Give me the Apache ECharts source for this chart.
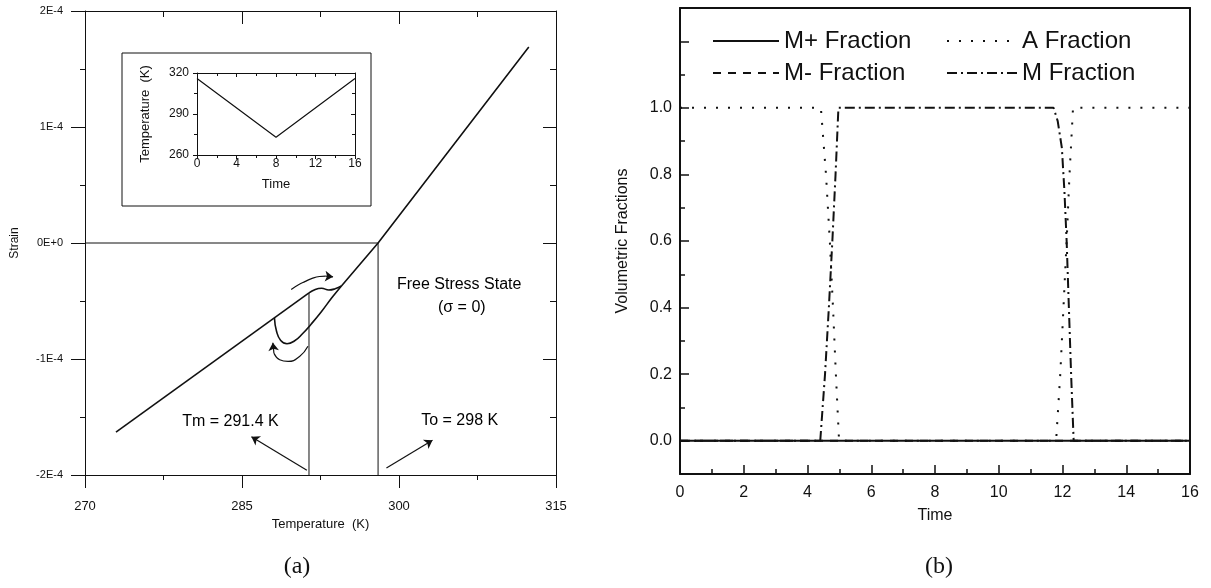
<!DOCTYPE html>
<html>
<head>
<meta charset="utf-8">
<script src="https://cdn.jsdelivr.net/npm/echarts@6/dist/echarts.min.js"></script>
<style>
  html, body { margin: 0; padding: 0; background: #fff; }
  #chart { width: 1211px; height: 588px; }
</style>
</head>
<body>
<div id="chart"></div>
<script>
// ---------- Panel (a): strain vs temperature, strain in units of 1E-4 ----------
const strainTickLabels = ['-2E-4', '-1E-4', '0E+0', '1E-4', '2E-4'];

const lowerBranch = [[272.96, -1.63], [291.4, -0.43]];
const transformWiggle = [[291.4, -0.43], [292.0, -0.40], [292.6, -0.39], [293.3, -0.405], [293.9, -0.395], [294.5, -0.37]];
const upperBranch = [[294.5, -0.37], [298.0, 0.0], [312.4, 1.69]];
const reverseLoop = [[288.1, -0.646], [288.3, -0.76], [288.7, -0.84], [289.3, -0.868], [290.0, -0.845],
                     [290.8, -0.78], [291.6, -0.70], [292.6, -0.59], [293.6, -0.47], [294.5, -0.37]];

const zeroStrainLine = [[270, 0], [298, 0]];
const toLine = [[298, 0], [298, -2]];
const tmLine = [[291.4, -0.43], [291.4, -2]];

// curved direction arrows around the loop
const coolingArrowPath = [[289.7, -0.40], [290.4, -0.36], [291.0, -0.333], [291.7, -0.305], [292.4, -0.289], [293.0, -0.286]];
const coolingArrowHead = [[293.0, -0.286], [293.7, -0.292]];
const heatingArrowPath = [[291.3, -0.89], [290.5, -0.978], [289.4, -1.021], [288.6, -1.006], [288.05, -0.95]];
const heatingArrowHead = [[288.05, -0.95], [287.95, -0.86]];

// pointer arrows from the temperature labels
const tmPointer = [[291.2, -1.96], [285.9, -1.67]];
const toPointer = [[298.8, -1.94], [303.2, -1.70]];

const notes = [
  { name: 'Free Stress State', value: [305.75, -0.36] },
  { name: '(\u03C3 = 0)', value: [306.0, -0.56] },
  { name: 'Tm = 291.4 K', value: [283.9, -1.54] },
  { name: 'To = 298 K', value: [305.8, -1.53] }
];

// inset: temperature history
const insetTime = [0, 8, 16];
const insetTemp = [316, 273, 316];

// ---------- Panel (b): volumetric fractions vs time ----------
const fractionLabelValues = [0, 0.2, 0.4, 0.6, 0.8, 1.0];
const fractionMajorTicks = [0, 0.2, 0.4, 0.6, 0.8, 1.0, 1.2];
const fractionMinorTicks = [0.1, 0.3, 0.5, 0.7, 0.9, 1.1];

const mPlusFraction = [[0, 0], [16, 0]];
const mMinusFraction = [[0, 0], [16, 0]];
const aFraction = [[0, 1], [4.42, 1], [4.58, 0.8], [4.70, 0.6], [4.80, 0.4], [4.89, 0.2], [4.99, 0],
                   [11.8, 0], [11.93, 0.2], [12.03, 0.4], [12.13, 0.6], [12.22, 0.8], [12.33, 1], [16, 1]];
const mFraction = [[0, 0], [4.40, 0], [4.55, 0.2], [4.67, 0.4], [4.78, 0.6], [4.88, 0.8], [4.97, 1],
                   [11.72, 1], [11.85, 0.96], [11.98, 0.88], [12.06, 0.75], [12.13, 0.6], [12.2, 0.4],
                   [12.27, 0.2], [12.35, 0], [16, 0]];

const ink = '#111';
const sans = '"Liberation Sans", Arial, Helvetica, sans-serif';
const serif = '"Liberation Serif", "Times New Roman", serif';

function frameLine(width) {
  return { show: true, onZero: false, lineStyle: { color: ink, width: width } };
}
function ticks(inside, len, width) {
  return { show: true, inside: inside, length: len, lineStyle: { color: ink, width: width || 1 } };
}
function minor(len, split, width) {
  return { show: true, splitNumber: split, length: len, lineStyle: { color: ink, width: width || 1 } };
}
const noLabel = { show: false };
const noSplit = { show: false };

const chart = echarts.init(document.getElementById('chart'));

const xAxis = [
  // 0: panel (a) bottom
  { gridIndex: 0, type: 'value', position: 'bottom', min: 270, max: 315, interval: 15,
    axisLine: frameLine(1), axisTick: ticks(false, 13), minorTick: minor(5, 2), splitLine: noSplit,
    axisLabel: { color: ink, fontFamily: sans, fontSize: 13, margin: 25 },
    name: 'Temperature  (K)', nameLocation: 'middle', nameGap: 41,
    nameTextStyle: { color: ink, fontFamily: sans, fontSize: 13 } },
  // 1: panel (a) top
  { gridIndex: 0, type: 'value', position: 'top', min: 270, max: 315, interval: 15,
    axisLine: frameLine(1), axisTick: ticks(true, 13), minorTick: minor(6, 2), splitLine: noSplit, axisLabel: noLabel },
  // 2: inset bottom
  { gridIndex: 1, type: 'value', position: 'bottom', min: 0, max: 16, interval: 4, z: 5,
    axisLine: frameLine(1), axisTick: ticks(false, 4), minorTick: minor(3, 2), splitLine: noSplit,
    axisLabel: { color: ink, fontFamily: sans, fontSize: 12, margin: 3 },
    name: 'Time', nameLocation: 'middle', nameGap: 23,
    nameTextStyle: { color: ink, fontFamily: sans, fontSize: 13 } },
  // 3: inset top
  { gridIndex: 1, type: 'value', position: 'top', min: 0, max: 16, interval: 4, z: 5,
    axisLine: frameLine(1), axisTick: ticks(true, 4), minorTick: minor(3, 2), splitLine: noSplit, axisLabel: noLabel },
  // 4: panel (b) bottom
  { gridIndex: 2, type: 'value', position: 'bottom', min: 0, max: 16, interval: 2,
    axisLine: frameLine(2), axisTick: ticks(true, 9, 1.5), minorTick: minor(5, 2, 1.5), splitLine: noSplit,
    axisLabel: { color: ink, fontFamily: sans, fontSize: 16, margin: 11 },
    name: 'Time', nameLocation: 'middle', nameGap: 34,
    nameTextStyle: { color: ink, fontFamily: sans, fontSize: 16 } },
  // 5: panel (b) top
  { gridIndex: 2, type: 'value', position: 'top', min: 0, max: 16, interval: 2,
    axisLine: frameLine(2), axisTick: { show: false }, splitLine: noSplit, axisLabel: noLabel }
];

const yAxis = [
  // 0: panel (a) left
  { gridIndex: 0, type: 'value', position: 'left', min: -2, max: 2, interval: 1,
    axisLine: frameLine(1), axisTick: ticks(false, 14), minorTick: minor(5, 2), splitLine: noSplit,
    axisLabel: { color: ink, fontFamily: sans, fontSize: 11, margin: 22,
                 formatter: v => strainTickLabels[Math.round(v) + 2] },
    name: 'Strain', nameLocation: 'middle', nameGap: 64,
    nameTextStyle: { color: ink, fontFamily: sans, fontSize: 12 } },
  // 1: panel (a) right
  { gridIndex: 0, type: 'value', position: 'right', min: -2, max: 2, interval: 1,
    axisLine: frameLine(1), axisTick: ticks(true, 13), minorTick: minor(6, 2), splitLine: noSplit, axisLabel: noLabel },
  // 2: inset left
  { gridIndex: 1, type: 'value', position: 'left', min: 260, max: 320, interval: 30, z: 5,
    axisLine: frameLine(1), axisTick: ticks(false, 4), minorTick: minor(3, 2), splitLine: noSplit,
    axisLabel: { color: ink, fontFamily: sans, fontSize: 12, margin: 8 },
    name: 'Temperature  (K)', nameLocation: 'middle', nameGap: 45,
    nameTextStyle: { color: ink, fontFamily: sans, fontSize: 13 } },
  // 3: inset right
  { gridIndex: 1, type: 'value', position: 'right', min: 260, max: 320, interval: 30, z: 5,
    axisLine: frameLine(1), axisTick: ticks(true, 4), minorTick: minor(3, 2), splitLine: noSplit, axisLabel: noLabel },
  // 4: panel (b) left, major ticks and labels
  { gridIndex: 2, type: 'value', position: 'left', min: -0.1, max: 1.3,
    axisLine: frameLine(2),
    axisTick: Object.assign(ticks(true, 9, 1.5), { customValues: fractionMajorTicks }),
    splitLine: noSplit,
    axisLabel: { color: ink, fontFamily: sans, fontSize: 16, margin: 8,
                 customValues: fractionLabelValues, formatter: v => v.toFixed(1) },
    name: 'Volumetric Fractions', nameLocation: 'middle', nameGap: 49,
    nameTextStyle: { color: ink, fontFamily: sans, fontSize: 16 } },
  // 5: panel (b) left, minor ticks
  { gridIndex: 2, type: 'value', position: 'left', min: -0.1, max: 1.3,
    axisLine: { show: false },
    axisTick: Object.assign(ticks(true, 5, 1.5), { customValues: fractionMinorTicks }),
    splitLine: noSplit, axisLabel: noLabel },
  // 6: panel (b) right
  { gridIndex: 2, type: 'value', position: 'right', min: -0.1, max: 1.3,
    axisLine: frameLine(2), axisTick: { show: false }, splitLine: noSplit, axisLabel: noLabel }
];

function plainLine(data, xi, yi, width, extra) {
  return Object.assign({
    type: 'line', data: data, xAxisIndex: xi, yAxisIndex: yi,
    symbol: 'none', silent: true, animation: false,
    itemStyle: { color: ink },
    lineStyle: { color: ink, width: width }
  }, extra || {});
}
function arrow(coords, width) {
  return {
    type: 'lines', coordinateSystem: 'cartesian2d', xAxisIndex: 0, yAxisIndex: 0,
    symbol: ['none', 'arrow'], symbolSize: 8, silent: true, animation: false,
    lineStyle: { color: ink, width: width, opacity: 1 },
    data: [{ coords: coords }]
  };
}

const series = [
  plainLine(zeroStrainLine, 0, 0, 1),
  plainLine(toLine, 0, 0, 1),
  plainLine(tmLine, 0, 0, 1),
  plainLine(lowerBranch, 0, 0, 1.6),
  plainLine(transformWiggle, 0, 0, 1.6, { smooth: 0.5 }),
  plainLine(upperBranch, 0, 0, 1.6),
  plainLine(reverseLoop, 0, 0, 1.6, { smooth: 0.5 }),
  plainLine(coolingArrowPath, 0, 0, 1.2, { smooth: 0.5 }),
  arrow(coolingArrowHead, 1.2),
  plainLine(heatingArrowPath, 0, 0, 1.2, { smooth: 0.5 }),
  arrow(heatingArrowHead, 1.2),
  arrow(tmPointer, 1.2),
  arrow(toPointer, 1.2),
  {
    type: 'scatter', xAxisIndex: 0, yAxisIndex: 0, data: notes, symbolSize: 1,
    silent: true, animation: false, itemStyle: { color: 'rgba(0,0,0,0)' },
    label: { show: true, position: 'inside', formatter: p => p.name, opacity: 1,
             color: '#000', textBorderWidth: 0, fontFamily: sans, fontSize: 16 }
  },
  // inset temperature history
  plainLine(insetTime.map((t, i) => [t, insetTemp[i]]), 2, 2, 1.2, { z: 6 }),
  // panel (b)
  plainLine(aFraction, 4, 4, 2, { name: 'A Fraction', lineStyle: { color: ink, width: 2, type: [2, 10] } }),
  plainLine(mFraction, 4, 4, 2, { name: 'M Fraction', lineStyle: { color: ink, width: 2, type: [10, 4, 2, 4] } }),
  plainLine(mMinusFraction, 4, 4, 2, { name: 'M- Fraction', lineStyle: { color: ink, width: 2, type: [8, 7] } }),
  plainLine(mPlusFraction, 4, 4, 2, { name: 'M+ Fraction', lineStyle: { color: ink, width: 2 } })
];

const legendText = { color: ink, fontFamily: sans, fontSize: 24, lineHeight: 22 };
const hiddenMarker = { color: 'rgba(0,0,0,0)', borderWidth: 0, opacity: 0 };
const option = {
  animation: false,
  backgroundColor: '#fff',
  grid: [
    { left: 85, top: 11, width: 471, height: 464 },
    { left: 197, top: 73, width: 158, height: 82 },
    { left: 680, top: 8, width: 510, height: 466 }
  ],
  xAxis: xAxis,
  yAxis: yAxis,
  legend: [
    { data: ['M+ Fraction', 'M- Fraction'], orient: 'vertical', left: 712, top: 29, padding: 0,
      itemWidth: 66, itemHeight: 14, itemGap: 8, textStyle: legendText, itemStyle: hiddenMarker, selectedMode: false },
    { data: ['A Fraction', 'M Fraction'], orient: 'vertical', left: 946, top: 29, padding: 0,
      itemWidth: 70, itemHeight: 14, itemGap: 8, textStyle: legendText, itemStyle: hiddenMarker, selectedMode: false }
  ],
  graphic: [
    { type: 'rect', z: 1, shape: { x: 122, y: 53, width: 249, height: 153 },
      style: { fill: '#fff', stroke: ink, lineWidth: 1 } },
    { type: 'text', x: 297, y: 567, style: { text: '(a)', fill: ink, font: '24px ' + serif, textAlign: 'center', textVerticalAlign: 'middle' } },
    { type: 'text', x: 939, y: 567, style: { text: '(b)', fill: ink, font: '24px ' + serif, textAlign: 'center', textVerticalAlign: 'middle' } }
  ],
  series: series
};

chart.setOption(option);
</script>
</body>
</html>
